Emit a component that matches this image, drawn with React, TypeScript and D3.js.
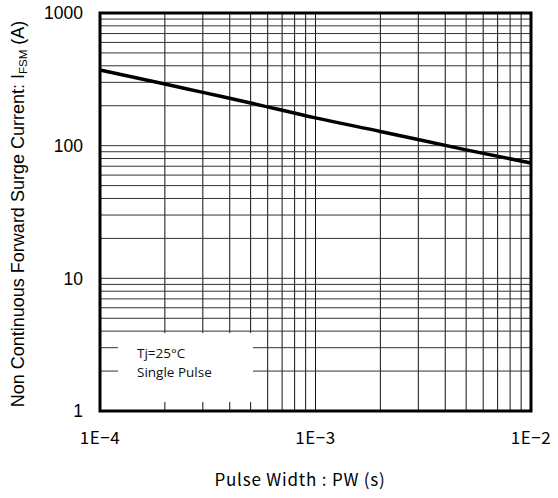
import * as d3 from "d3";
import { useEffect, useRef } from "react";

// Pulse width (s) vs. non-repetitive surge current (A)
const pulseWidth = [1e-4, 2e-4, 3e-4, 5e-4, 1e-3, 2e-3, 5e-3, 1e-2];
const surgeCurrent = [372, 292, 252, 210, 162, 128, 93, 74];

const xTickValues = [1e-4, 1e-3, 1e-2];
const xTickLabels = ["1E\u22124", "1E\u22123", "1E\u22122"];
const yTickValues = [1, 10, 100, 1000];
const yTickLabels = ["1", "10", "100", "1000"];

const legendLines = ["Tj=25\u00B0C", "Single Pulse"];

const W = 558;
const H = 498;
const margin = { top: 13, right: 27, bottom: 87, left: 100 };

export default function App() {
    const svgRef = useRef<SVGSVGElement | null>(null);

    useEffect(() => {
        document.body.style.margin = "0";
        if (!svgRef.current) return;
        const svg = d3.select(svgRef.current);
        svg.selectAll("*").remove();

        const x = d3.scaleLog()
            .domain([1e-4, 1e-2])
            .range([margin.left, W - margin.right]);
        const y = d3.scaleLog()
            .domain([1, 1000])
            .range([H - margin.bottom, margin.top]);

        const grid = svg.append("g");

        // minor + major grid (1..9 per decade)
        grid.selectAll(".vx")
            .data(x.ticks())
            .enter()
            .append("line")
            .attr("x1", d => x(d))
            .attr("x2", d => x(d))
            .attr("y1", y(1))
            .attr("y2", y(1000))
            .attr("stroke", "#111")
            .attr("stroke-width", 1);

        grid.selectAll(".hy")
            .data(y.ticks())
            .enter()
            .append("line")
            .attr("x1", x(1e-4))
            .attr("x2", x(1e-2))
            .attr("y1", d => y(d))
            .attr("y2", d => y(d))
            .attr("stroke", "#333")
            .attr("stroke-width", 1);

        // legend box blanks out the grid behind it
        svg.append("rect")
            .attr("x", 118)
            .attr("y", 333)
            .attr("width", 135)
            .attr("height", 69)
            .attr("fill", "#fff");

        svg.append("g")
            .selectAll("text")
            .data(legendLines)
            .enter()
            .append("text")
            .attr("x", 137)
            .attr("y", (d, i) => 358 + i * 19)
            .style("font-family", "'Open Sans', sans-serif")
            .style("font-size", "13.5px")
            .style("fill", "#111")
            .text(d => d);

        // curve
        const line = d3.line<number>()
            .x((d, i) => x(pulseWidth[i]))
            .y(d => y(d))
            .curve(d3.curveMonotoneX);

        svg.append("path")
            .datum(surgeCurrent)
            .attr("d", line)
            .attr("fill", "none")
            .attr("stroke", "#000")
            .attr("stroke-width", 3.5);

        // frame
        svg.append("rect")
            .attr("x", x(1e-4))
            .attr("y", y(1000))
            .attr("width", x(1e-2) - x(1e-4))
            .attr("height", y(1) - y(1000))
            .attr("fill", "none")
            .attr("stroke", "#000")
            .attr("stroke-width", 3);

        // y tick labels
        svg.append("g")
            .selectAll("text")
            .data(yTickValues)
            .enter()
            .append("text")
            .attr("x", x(1e-4) - 17)
            .attr("y", d => y(d))
            .attr("dy", "0.36em")
            .attr("text-anchor", "end")
            .style("font-family", "'Liberation Sans', sans-serif")
            .style("font-size", "17.5px")
            .style("fill", "#000")
            .text((d, i) => yTickLabels[i]);

        // x tick labels
        svg.append("g")
            .selectAll("text")
            .data(xTickValues)
            .enter()
            .append("text")
            .attr("x", d => x(d))
            .attr("y", 444)
            .attr("text-anchor", "middle")
            .style("font-family", "'Noto Sans CJK JP', sans-serif")
            .style("font-size", "17px")
            .style("letter-spacing", "0.5px")
            .style("fill", "#000")
            .text((d, i) => xTickLabels[i]);

        // x axis title
        svg.append("text")
            .attr("x", 300)
            .attr("y", 486)
            .attr("text-anchor", "middle")
            .style("font-family", "'Noto Sans CJK JP', sans-serif")
            .style("font-size", "17px")
            .style("letter-spacing", "0.8px")
            .style("fill", "#000")
            .text("Pulse Width : PW (s)");

        // y axis title
        const yt = svg.append("text")
            .attr("transform", `translate(24,214) rotate(-90)`)
            .attr("text-anchor", "middle")
            .style("font-family", "'Liberation Sans', sans-serif")
            .style("font-size", "18px")
            .style("fill", "#000");
        yt.append("tspan").text("Non Continuous Forward Surge Current: I");
        yt.append("tspan").attr("dy", 3).style("font-size", "11.5px").text("FSM");
        yt.append("tspan").attr("dy", -3).text(" (A)");
    }, []);

    return (
        <svg
            ref={svgRef}
            width={W}
            height={H}
            style={{ position: "absolute", left: 0, top: 0, background: "#fff" }}
        />
    );
}
